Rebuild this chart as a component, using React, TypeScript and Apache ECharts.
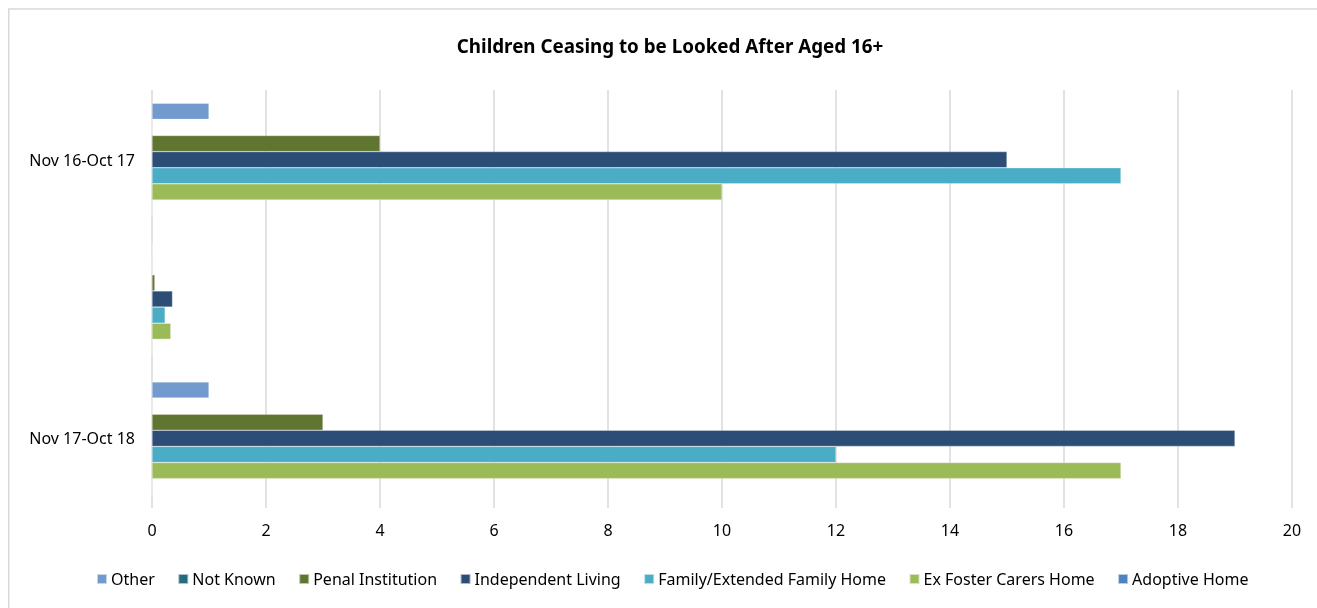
import React, { useEffect, useRef } from "react";
import * as echarts from "echarts";

const categories = ["Nov 16-Oct 17", "", "Nov 17-Oct 18"];
const seriesNames = [
  "Other",
  "Not Known",
  "Penal Institution",
  "Independent Living",
  "Family/Extended Family Home",
  "Ex Foster Carers Home",
  "Adoptive Home",
];
const other = [1, 0.01, 1];
const notKnown = [0, 0, 0];
const penal = [4, 0.05, 3];
const independent = [15, 0.36, 19];
const family = [17, 0.23, 12];
const exFoster = [10, 0.33, 17];
const adoptive = [0, 0, 0];
const colors = ["#729ACE", "#276A7C", "#60752F", "#2C4D75", "#4BACC6", "#9BBB59", "#4F81BD"];
const xTicks = { min: 0, max: 20, interval: 2 };

const FONT = "'Noto Sans', 'Open Sans', sans-serif";

export default function App() {
  const ref = useRef<HTMLDivElement>(null);
  useEffect(() => {
    if (!ref.current) return;
    document.body.style.overflow = "hidden";
    document.documentElement.style.overflow = "hidden";
    const chart = echarts.init(ref.current, null, { renderer: "svg" });
    const values = [other, notKnown, penal, independent, family, exFoster, adoptive];
    chart.setOption({
      animation: false,
      color: colors,
      textStyle: { fontFamily: FONT },
      title: {
        text: "Children Ceasing to be Looked After Aged 16+",
        left: 657,
        top: 23,
        textAlign: "center",
        textStyle: { fontSize: 18.8, fontWeight: "bold", color: "#000", fontFamily: FONT },
      },
      graphic: [
        {
          type: "polyline",
          shape: { points: [[0.75, 700], [0.75, 1], [1400, 1]] },
          style: { fill: "none", stroke: "#d9d9d9", lineWidth: 1.5 },
          silent: true,
        },
      ],
      legend: {
        data: seriesNames,
        left: 83,
        top: 558,
        itemWidth: 10,
        itemHeight: 10,
        itemGap: 22.5,
        icon: "rect",
        textStyle: { fontSize: 16, color: "#000", fontFamily: FONT, padding: [0, 0, 0, -1] },
      },
      grid: { left: 144, right: 116, top: 82, bottom: 100, containLabel: false },
      xAxis: {
        type: "value",
        min: xTicks.min,
        max: xTicks.max,
        interval: xTicks.interval,
        axisLine: { show: false },
        axisTick: { show: false },
        axisLabel: { fontSize: 16, color: "#000", margin: 14, fontFamily: FONT },
        splitLine: { show: true, lineStyle: { color: "#d9d9d9", width: 1.5 } },
      },
      yAxis: {
        type: "category",
        data: categories,
        inverse: true,
        axisLine: { show: false },
        axisTick: { show: false },
        axisLabel: { fontSize: 16, color: "#000", margin: 17, fontFamily: FONT },
      },
      series: seriesNames.map((name, i) => ({
        name,
        type: "bar",
        data: values[i],
        barGap: "0%",
        barCategoryGap: "19%",
        itemStyle: { color: colors[i], borderColor: "rgba(255,255,255,0.6)", borderWidth: 0.5 },
      })),
    });
    return () => chart.dispose();
  }, []);
  return (
    <div
      ref={ref}
      style={{ position: "fixed", left: 8, top: 8, width: 1400, height: 600 }}
    />
  );
}
